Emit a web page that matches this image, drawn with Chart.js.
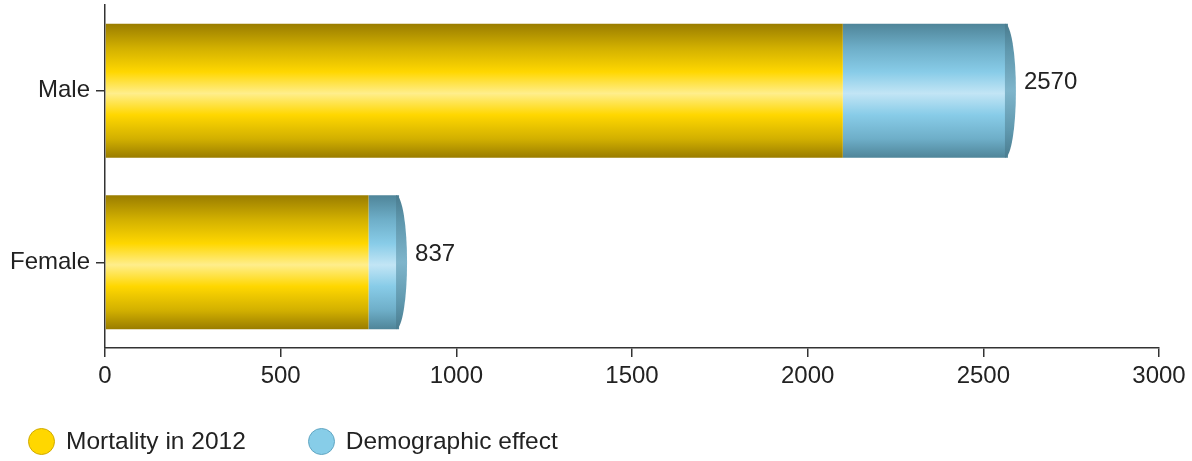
<!DOCTYPE html>
<html>
<head>
<meta charset="utf-8">
<script src="https://cdn.jsdelivr.net/npm/chart.js@4.4.0/dist/chart.umd.min.js"></script>
<style>
  html, body { margin: 0; padding: 0; background: #fff; }
  #wrap { position: relative; width: 1192px; height: 461px; }
  #chart { position: absolute; left: 0; top: 0; }
  #legend {
    position: absolute; left: 28px; top: 427px;
    display: flex; align-items: center;
    font-family: "Liberation Sans", Arial, sans-serif; font-size: 24.5px; color: #222;
  }
  .item { display: flex; align-items: center; margin-right: 62px; }
  .dot { width: 27px; height: 27px; border-radius: 50%; margin-right: 11px; box-sizing: border-box; }
</style>
</head>
<body>
<div id="wrap">
  <canvas id="chart" width="1192" height="461"></canvas>
  <div id="legend"></div>
</div>
<script>
// Deaths by sex: 2012 mortality plus the extra deaths from demographic change
const categories = ['Male', 'Female'];
const mortality2012 = [2100, 750];
const demographicEffect = [470, 87];
const seriesNames = ['Mortality in 2012', 'Demographic effect'];
const xTicks = [0, 500, 1000, 1500, 2000, 2500, 3000];

const totals = categories.map((_, i) => mortality2012[i] + demographicEffect[i]);

const FONT = '"Liberation Sans", Arial, sans-serif';
const CAT_PCT = 0.78;

// Cylinder shading: dark rims, bright band, pale highlight through the middle
const goldStops = [
  [0.00, '#9a7d00'], [0.18, '#d2b000'], [0.36, '#ffd700'], [0.52, '#ffee8c'],
  [0.68, '#ffd700'], [0.86, '#d2b000'], [1.00, '#9a7d00']
];
const blueStops = [
  [0.00, '#4f8599'], [0.18, '#6eaec8'], [0.36, '#88cce8'], [0.52, '#c2e5f5'],
  [0.68, '#88cce8'], [0.86, '#6eaec8'], [1.00, '#4f8599']
];
const capStops = [
  [0.00, '#4a7c8f'], [0.20, '#5f98ae'], [0.50, '#7fb5cb'],
  [0.80, '#5f98ae'], [1.00, '#4a7c8f']
];

function bandGradient(chart, center, half, stops) {
  const g = chart.ctx.createLinearGradient(0, center - half, 0, center + half);
  stops.forEach(([p, c]) => g.addColorStop(p, c));
  return g;
}

function barFill(stops, solid) {
  return (ctx) => {
    const chart = ctx.chart;
    const yScale = chart.scales && chart.scales.y;
    if (ctx.type !== 'data' || !chart.chartArea || !yScale) return solid;
    const center = yScale.getPixelForValue(ctx.dataIndex);
    const half = (yScale.height / categories.length) * CAT_PCT / 2;
    return bandGradient(chart, center, half, stops);
  };
}

// End caps on the stacked bars and the total written beside each one
const capsAndTotals = {
  id: 'capsAndTotals',
  afterDatasetsDraw(chart) {
    const meta = chart.getDatasetMeta(1);
    const c = chart.ctx;
    c.save();
    meta.data.forEach((bar, i) => {
      const { x, y, height } = bar.getProps(['x', 'y', 'height'], true);
      const half = height / 2;
      c.beginPath();
      c.moveTo(x - 3, y - half);
      c.ellipse(x - 3, y, 11, half, 0, -Math.PI / 2, Math.PI / 2);
      c.closePath();
      c.fillStyle = bandGradient(chart, y, half, capStops);
      c.fill();
      c.fillStyle = '#222';
      c.font = '24px ' + FONT;
      c.textAlign = 'left';
      c.textBaseline = 'middle';
      c.fillText(String(totals[i]), x + 16, y - 8);
    });
    c.restore();
  }
};

const chart = new Chart(document.getElementById('chart'), {
  type: 'bar',
  data: {
    labels: categories,
    datasets: [
      {
        label: seriesNames[0],
        data: mortality2012,
        backgroundColor: barFill(goldStops, '#ffd700'),
        legendColor: '#ffd700', legendBorder: '#d0aa00',
        borderWidth: 0,
        categoryPercentage: CAT_PCT,
        barPercentage: 1.0
      },
      {
        label: seriesNames[1],
        data: demographicEffect,
        backgroundColor: barFill(blueStops, '#88cce8'),
        legendColor: '#87cde8', legendBorder: '#62a6c2',
        borderWidth: 0,
        categoryPercentage: CAT_PCT,
        barPercentage: 1.0
      }
    ]
  },
  options: {
    indexAxis: 'y',
    responsive: false,
    animation: false,
    devicePixelRatio: 1,
    layout: { padding: { top: 5, right: 33, bottom: 63, left: 0 } },
    plugins: {
      legend: { display: false },
      tooltip: { enabled: false }
    },
    scales: {
      x: {
        stacked: true,
        min: xTicks[0],
        max: xTicks[xTicks.length - 1],
        afterBuildTicks(scale) { scale.ticks = xTicks.map(v => ({ value: v })); },
        afterFit(scale) { scale.height = 50; scale.paddingLeft = 0; scale.paddingRight = 0; },
        border: { display: true, color: '#333', width: 1.5 },
        grid: { drawOnChartArea: false, drawTicks: true, tickLength: 9, color: '#333', lineWidth: 1.5 },
        ticks: {
          color: '#222', font: { family: FONT, size: 24 }, padding: 5, maxRotation: 0,
          callback: (v) => String(v)
        }
      },
      y: {
        stacked: true,
        afterFit(scale) { scale.width = 105; scale.paddingTop = 0; scale.paddingBottom = 0; },
        border: { display: true, color: '#333', width: 1.5 },
        grid: { drawOnChartArea: false, drawTicks: true, tickLength: 9, offset: false, color: '#333', lineWidth: 1.5 },
        ticks: { color: '#222', font: { family: FONT, size: 24 }, padding: 6 }
      }
    }
  },
  plugins: [capsAndTotals]
});

// Legend built from the chart's datasets
const legendEl = document.getElementById('legend');
chart.data.datasets.forEach((ds) => {
  const item = document.createElement('div');
  item.className = 'item';
  const dot = document.createElement('span');
  dot.className = 'dot';
  dot.style.background = ds.legendColor;
  dot.style.border = '1px solid ' + ds.legendBorder;
  const txt = document.createElement('span');
  txt.textContent = ds.label;
  item.appendChild(dot);
  item.appendChild(txt);
  legendEl.appendChild(item);
});
</script>
</body>
</html>
